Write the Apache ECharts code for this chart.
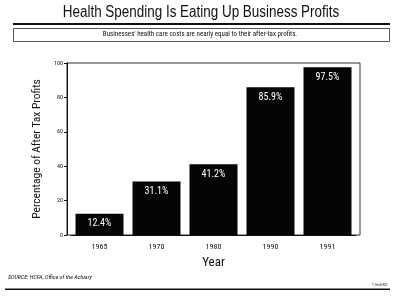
<!DOCTYPE html>
<html><head><meta charset="utf-8">
<script src="https://cdn.jsdelivr.net/npm/echarts@6/dist/echarts.min.js"></script>
<style>html,body{margin:0;padding:0;background:#fff}#c{width:400px;height:305px}</style>
</head><body><div id="c"></div>
<script>
const categories = ['1965', '1970', '1980', '1990', '1991'];
const values = [12.4, 31.1, 41.2, 85.9, 97.5];
const yTicks = [0, 20, 40, 60, 80, 100];
const titleText = 'Health Spending Is Eating Up Business Profits';
const subtitleText = "Businesses' health care costs are nearly equal to their after-tax profits.";
const sourceText = 'SOURCE: HCFA, Office of the Actuary';

const narrow = '"Roboto Condensed", "DejaVu Sans Condensed", sans-serif';
const chart = echarts.init(document.getElementById('c'), null, {renderer: 'canvas'});
chart.setOption({
  animation: false,
  backgroundColor: '#fff',
  grid: {left: 71, right: 44, top: 63, bottom: 70},
  xAxis: {
    type: 'category', data: categories,
    name: 'Year', nameLocation: 'middle', nameGap: 21,
    nameTextStyle: {fontFamily: narrow, fontSize: 13, color: '#111'},
    axisLine: {lineStyle: {color: '#111', width: 1}},
    axisTick: {alignWithLabel: true, length: 4, lineStyle: {color: '#111'}},
    axisLabel: {fontFamily: narrow, fontSize: 8, color: '#111', margin: 8}
  },
  yAxis: {
    type: 'value', min: yTicks[0], max: yTicks[yTicks.length - 1], interval: 20,
    offset: 4,
    name: 'Percentage of After Tax Profits', nameLocation: 'middle', nameGap: 16,
    nameTextStyle: {fontFamily: narrow, fontSize: 11.5, color: '#111'},
    axisLine: {show: true, lineStyle: {color: '#111'}},
    axisTick: {show: true, length: 3, lineStyle: {color: '#111'}},
    axisLabel: {fontFamily: narrow, fontSize: 6, color: '#111', margin: 4},
    splitLine: {show: false}
  },
  series: [{
    type: 'bar', data: values, barWidth: 48,
    itemStyle: {color: '#050505'},
    label: {show: true, position: 'insideTop', distance: 5, color: '#fff',
      fontFamily: narrow, fontSize: 10, formatter: p => p.value + '%'}
  }],
  graphic: [
    {type: 'text', x: 201, y: 5, scaleX: 0.84, originX: 0,
      style: {text: titleText, font: '16px "Liberation Sans", Arial, sans-serif', fill: '#111', align: 'center'}},
    {type: 'rect', shape: {x: 13, y: 23, width: 377, height: 2}, style: {fill: '#111'}},
    {type: 'rect', shape: {x: 13.5, y: 28.5, width: 376, height: 13}, style: {fill: 'none', stroke: '#555', lineWidth: 1}},
    {type: 'text', left: 'center', top: 31, style: {text: subtitleText, font: '7px ' + narrow, fill: '#111'}},
    {type: 'rect', shape: {x: 67, y: 63, width: 293, height: 172}, style: {fill: 'none', stroke: '#333', lineWidth: 1}},
    {type: 'text', left: 8, top: 274, style: {text: sourceText, font: 'italic 6px ' + narrow, fill: '#111'}},
    {type: 'rect', shape: {x: 5, y: 288.5, width: 385, height: 1.5}, style: {fill: '#111'}},
    {type: 'text', left: 372, top: 284, style: {text: '© HealthPAC', font: '3px ' + narrow, fill: '#333'}}
  ]
});
</script></body></html>
